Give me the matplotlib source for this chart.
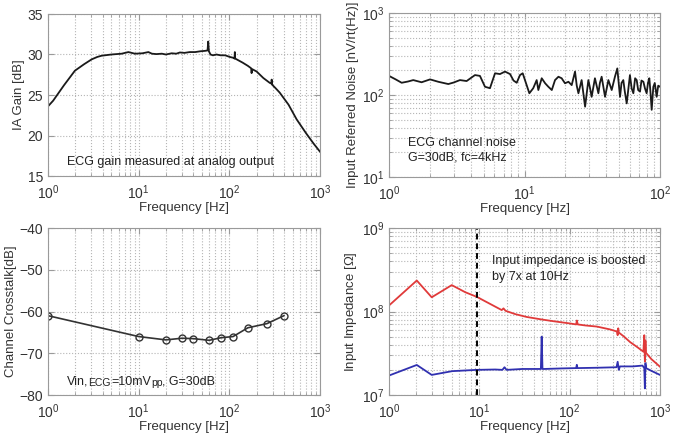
import numpy as np
import matplotlib
matplotlib.use('Agg')
import matplotlib.pyplot as plt

# --- data ---
gain_freq = [1, 1.14, 1.5, 1.98, 2.5, 3.03, 3.5, 3.9, 5.0, 6.5, 7.7, 9.1, 11, 12.8, 14,
             15.7, 18, 20, 23.1, 26, 28.5, 32, 36.6, 42, 48, 54, 57.5, 58.5, 59.5, 62,
             66, 72, 80, 90, 101, 110, 114, 115, 116, 125, 140, 160, 174, 176, 178,
             200, 237, 279, 292, 293, 295, 320, 359, 450, 552, 700, 850, 1000]
gain_db = [23.6, 24.3, 26.2, 28.0, 28.8, 29.4, 29.7, 29.85, 30.0, 30.1, 30.3, 30.1,
           30.15, 30.3, 30.1, 30.05, 30.1, 30.0, 30.15, 30.1, 30.25, 30.2, 30.3, 30.3,
           30.4, 30.45, 30.5, 31.6, 30.4, 30.0, 29.9, 30.0, 29.9, 29.9, 29.7, 29.6,
           29.5, 30.3, 29.5, 29.3, 29.0, 28.6, 28.3, 27.7, 28.2, 27.9, 27.1, 26.5,
           26.4, 26.9, 26.3, 25.9, 25.3, 23.8, 22.0, 20.3, 19.0, 18.0]

noise_freq = [1.0, 1.12, 1.24, 1.38, 1.51, 1.74, 2.01, 2.31, 2.74, 3.0, 3.34, 3.74,
              4.31, 4.69, 5.11, 5.56, 6.06, 6.59, 7.18, 7.82, 8.3, 8.76, 9.26, 9.7,
              10.86, 11.6, 12.3, 12.65, 13.4, 14.2, 15.0, 15.9, 16.8, 17.8, 18.8,
              19.9, 21.1, 22.3, 23.6, 24.3, 25.0, 26.4, 28.0, 29.6, 30.5, 31.3, 33.1,
              35.1, 36.0, 37.1, 39.3, 41.6, 44.0, 46.5, 48.4, 50.7, 52.0, 53.6, 55.0,
              56.8, 60.0, 61.8, 63.6, 65.5, 67.3, 69.0, 71.2, 73.0, 75.4, 77.5, 79.7,
              81.5, 83.4, 85.0, 86.8, 89.3, 91.5, 94.5, 97.0, 100]
noise_val = [171, 155, 141, 146, 152, 143, 155, 145, 136, 142, 152, 148,
             175, 171, 126, 121, 184, 180, 193, 180, 150, 141, 175, 184,
             105, 121, 152, 115, 160, 139, 126, 115, 152, 167, 160,
             139, 145, 132, 193, 130, 105, 152, 72, 152, 120, 95, 160,
             105, 140, 167, 95, 152, 115, 167, 211, 95, 140, 152, 110,
             79, 175, 120, 105, 160, 152, 115, 110, 150, 145, 120, 105,
             140, 160, 110, 66, 126, 140, 95, 130, 126]

xtalk_freq = [1, 10, 20, 30, 40, 60, 80, 110, 160, 260, 400]
xtalk_db = [-61.0, -66.0, -66.8, -66.4, -66.5, -66.9, -66.3, -66.0, -63.9, -62.9, -61.0]

zin_freq = [1, 2.03, 2.97, 4.95, 7, 9.35, 12, 17.7, 18.5, 19.5, 25, 33.5, 50, 66,
            100, 118, 120, 123, 150, 200, 280, 333, 340, 345, 350, 400, 467, 550,
            655, 670, 680, 690, 700, 800, 1000]
zin_boosted = [11.8, 23.5, 14.8, 20.7, 17.0, 15.0, 13.0, 10.4, 10.9, 10.2, 9.3, 8.6,
               8.0, 7.65, 7.2, 7.0, 7.8, 7.0, 6.8, 6.6, 6.1, 5.76, 5.2, 6.3, 5.6,
               5.0, 4.3, 3.8, 3.3, 5.2, 2.5, 4.5, 3.2, 2.7, 2.18]  # x1e7 ohm

zin_freq_b = [1, 2.03, 2.97, 5, 9.35, 15, 18, 19, 20, 30, 48, 49, 50, 52, 80, 118,
              120, 122, 200, 330, 340, 350, 360, 500, 640, 670, 680, 690, 700, 800, 1000]
zin_plain = [1.71, 2.29, 1.74, 1.93, 2.0, 2.02, 2.0, 2.15, 2.0, 2.05, 2.05, 5.0, 2.05,
             2.05, 2.08, 2.1, 2.3, 2.1, 2.12, 2.15, 2.5, 2.0, 2.2, 2.2, 2.25, 2.1, 1.2,
             2.4, 2.1, 1.95, 1.74]  # x1e7 ohm

marker_freq = 9.4

plt.rcParams['font.family'] = ['Liberation Sans', 'DejaVu Sans']
plt.rcParams['mathtext.fontset'] = 'custom'
plt.rcParams['mathtext.rm'] = 'Liberation Sans'

txt_col = '#333333'
note_col = '#222222'
spine_col = '#9a9a9a'
W, H = 681, 436


def style_axes(ax, xlabel, ylabel):
    ax.set_xscale('log')
    for s in ax.spines.values():
        s.set_color(spine_col)
        s.set_linewidth(0.8)
    ax.tick_params(which='both', direction='in', top=True, right=True,
                   color=spine_col, labelcolor=txt_col, labelsize=10)
    ax.tick_params(which='major', length=4)
    ax.tick_params(which='minor', length=2)
    ax.tick_params(axis='x', pad=5)
    ax.grid(True, which='both', ls=':', color='#b5b5b5', lw=0.8)
    ax.set_xlabel(xlabel, fontsize=9.5, color=txt_col, labelpad=0)
    ax.set_ylabel(ylabel, fontsize=9.5, color=txt_col, labelpad=2)


def box(l, t, r, b):
    return [l / W, 1 - b / H, (r - l) / W, (b - t) / H]


fig = plt.figure(figsize=(W / 100, H / 100), dpi=100)
ax1 = fig.add_axes(box(48, 14, 320, 176))
ax2 = fig.add_axes(box(389, 13, 660, 177))
ax3 = fig.add_axes(box(48, 228, 320, 395))
ax4 = fig.add_axes(box(389, 228, 660, 395))

# IA gain
ax1.plot(gain_freq, gain_db, color='#1a1a1a', lw=1.3)
style_axes(ax1, 'Frequency [Hz]', 'IA Gain [dB]')
ax1.set_xlim(1, 1000)
ax1.set_ylim(15, 35)
ax1.set_yticks([15, 20, 25, 30, 35])
ax1.text(0.07, 0.065, 'ECG gain measured at analog output', transform=ax1.transAxes,
         fontsize=9, color=note_col)

# input referred noise
ax2.plot(noise_freq, noise_val, color='#1a1a1a', lw=1.3)
style_axes(ax2, 'Frequency [Hz]', 'Input Referred Noise [nV/rt(Hz)]')
ax2.set_yscale('log')
ax2.set_xlim(1, 100)
ax2.set_ylim(10, 1000)
ax2.text(0.07, 0.08, 'ECG channel noise\nG=30dB, fc=4kHz', transform=ax2.transAxes,
         fontsize=9, color=note_col, linespacing=1.35, va='bottom')

# crosstalk
ax3.plot(xtalk_freq, xtalk_db, color='#333333', lw=1.2, marker='o', ms=5,
         mfc='none', mec='#333333', mew=1.0)
style_axes(ax3, 'Frequency [Hz]', 'Channel Crosstalk[dB]')
ax3.set_xlim(1, 1000)
ax3.set_ylim(-80, -40)
ax3.set_yticks([-80, -70, -60, -50, -40])
t = ax3.text(0.07, 0.06, 'Vin,', transform=ax3.transAxes, fontsize=9, color=note_col)
parts = [('ECG', 7.5), ('=10mV', 9), ('pp', 7.5), (', G=30dB', 9)]
for s, fs in parts:
    t = ax3.annotate(s, xy=(1, 0), xycoords=t, va='bottom', fontsize=fs, color=note_col)

# input impedance
ax4.plot(zin_freq, np.array(zin_boosted) * 1e7, color='#e03a3a', lw=1.3)
ax4.plot(zin_freq_b, np.array(zin_plain) * 1e7, color='#3030b0', lw=1.3)
ax4.axvline(marker_freq, color='black', ls='--', lw=1.4, dashes=(3, 2))
style_axes(ax4, 'Frequency [Hz]', r'Input Impedance [$\Omega$]')
ax4.set_yscale('log')
ax4.set_xlim(1, 1000)
ax4.set_ylim(1e7, 1e9)
ax4.text(0.38, 0.69, 'Input impedance is boosted\nby 7x at 10Hz', transform=ax4.transAxes,
         fontsize=9, color=note_col, linespacing=1.4)

fig.savefig('out.png', dpi=100)
